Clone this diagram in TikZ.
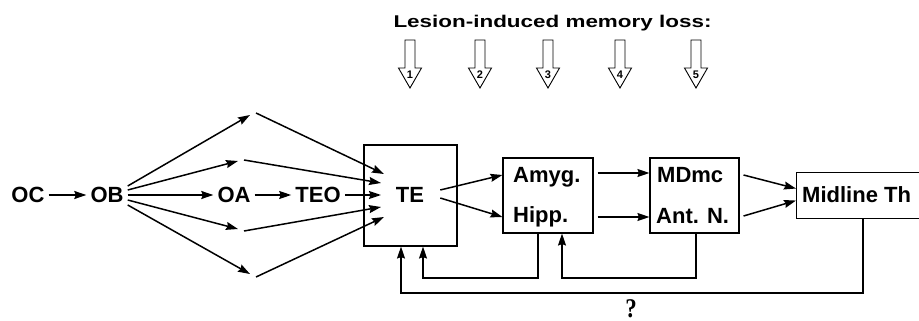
\documentclass[tikz,border=0pt]{standalone}
\usepackage{fontspec}
\setmainfont{Liberation Sans}
\newfontfamily\qfont{Liberation Serif}
\usetikzlibrary{arrows.meta,calc}
\begin{document}
\begin{tikzpicture}[x=1pt,y=-1pt,
  lbl/.style={font=\bfseries\fontsize{22}{24}\selectfont, inner xsep=4pt, inner ysep=2pt},
  inlbl/.style={font=\bfseries\fontsize{22}{24}\selectfont, inner sep=0pt, anchor=base west},
  boxx/.style={draw, line width=1.1pt, inner sep=0pt},
  arr/.style={line width=1.5pt, -{Stealth[length=12pt,width=8pt,inset=1.5pt]}},
  ln/.style={line width=1.3pt},
  hollow/.style={draw, line width=0.9pt, fill=white}
]
\clip (0,0) rectangle (919,321);
% title
\node[font=\bfseries\fontsize{17}{19}\selectfont] (title) at (552.5,23) {\scalebox{1.32}[1.0]{Lesion-induced memory loss:}};
% hollow arrows
\foreach \xx/\nn in {410/1,480/2,548/3,620/4,696/5}{
  \draw[hollow] (\xx-5,40) -- (\xx+5,40) -- (\xx+5,68) -- (\xx+11.5,68) -- (\xx,88) -- (\xx-11.5,68) -- (\xx-5,68) -- cycle;
  \node[font=\bfseries\fontsize{11}{12}\selectfont, inner sep=0pt] (h\nn) at (\xx,75) {\nn};
}
% main labels
\node[lbl] (OC) at (28,195) {OC};
\node[lbl] (OB) at (107,195) {OB};
\node[lbl] (OA) at (234,195) {OA};
\node[lbl] (TEO) at (318,195) {TEO};
% TE box
\node[boxx, minimum width=93pt, minimum height=101pt] (TEbox) at (410.5,195.5) {};
\node[lbl] (TE) at (410,195) {TE};
% Amyg/Hipp box
\node[boxx, minimum width=90pt, minimum height=75pt] (AH) at (548,195.5) {};
\node[inlbl] (Amyg) at (513,182) {Amyg.};
\node[inlbl] (Hipp) at (513,222) {Hipp.};
% MDmc / Ant N box
\node[boxx, minimum width=89pt, minimum height=75pt] (MA) at (694.5,195.5) {};
\node[inlbl] (MDmc) at (657,182) {MDmc};
\node[inlbl] (AntN) at (656,223) {Ant. N.};
% Midline box
\node[boxx, minimum width=150pt, minimum height=46pt, anchor=north west] (Mid) at (796,172) {};
\node[inlbl] (MidT) at (802,202) {Midline Th};
% relay coordinates
\coordinate (u1a) at (250,115); \coordinate (u1b) at (256,113);
\coordinate (u2a) at (238,161); \coordinate (u2b) at (244,160);
\coordinate (d2a) at (238,229); \coordinate (d2b) at (244,231);
\coordinate (d1a) at (250,274); \coordinate (d1b) at (256,277);
% TE entry points
\coordinate (t1) at (384,174);
\coordinate (t2) at (381,183);
\coordinate (t3) at (381,195);
\coordinate (t4) at (381,207);
\coordinate (t5) at (384,217);
% arrows
\draw[arr] (OC) -- (OB);
\draw[arr] ($(OB.east)+(0,-9)$) -- (u1a);
\draw[arr] ($(OB.east)+(0,-5)$) -- (u2a);
\draw[arr] (OB) -- (OA);
\draw[arr] ($(OB.east)+(0,5)$) -- (d2a);
\draw[arr] ($(OB.east)+(0,10)$) -- (d1a);
\draw[arr] (OA) -- (TEO);
\draw[arr] (u1b) -- (t1);
\draw[arr] (u2b) -- (t2);
\draw[arr] (TEO) -- (t3);
\draw[arr] (d2b) -- (t4);
\draw[arr] (d1b) -- (t5);
\draw[arr] ($(TE.east)+(12,-5)$) -- ($(AH.west)+(0,-20.5)$);
\draw[arr] ($(TE.east)+(12,3)$) -- ($(AH.west)+(0,21.5)$);
\draw[arr] ($(AH.east)+(4,-22.5)$) -- ($(MA.west)+(0,-22.5)$);
\draw[arr] ($(AH.east)+(4,21.5)$) -- ($(MA.west)+(0,21.5)$);
\draw[arr] ($(MA.east)+(4,-20.5)$) -- ($(Mid.west)+(0,-7)$);
\draw[arr] ($(MA.east)+(4,20.5)$) -- ($(Mid.west)+(0,5)$);
% feedback loops
\draw[ln, -{Stealth[length=12pt,width=8pt,inset=1.5pt]}] (AH.south -| 538,0) -- (538,278) -| (TEbox.south -| 423,0);
\draw[ln, -{Stealth[length=12pt,width=8pt,inset=1.5pt]}] (MA.south -| 696,0) -- (696,278) -| (AH.south -| 562,0);
\draw[ln, -{Stealth[length=12pt,width=8pt,inset=1.5pt]}] (Mid.south -| 863,0) -- (863,293) -| (TEbox.south -| 401,0);
\node[font=\qfont\bfseries\fontsize{27}{29}\selectfont, inner sep=0pt, anchor=base] (q) at (631,317) {\scalebox{0.85}[1.0]{?}};
\end{tikzpicture}
\end{document}
